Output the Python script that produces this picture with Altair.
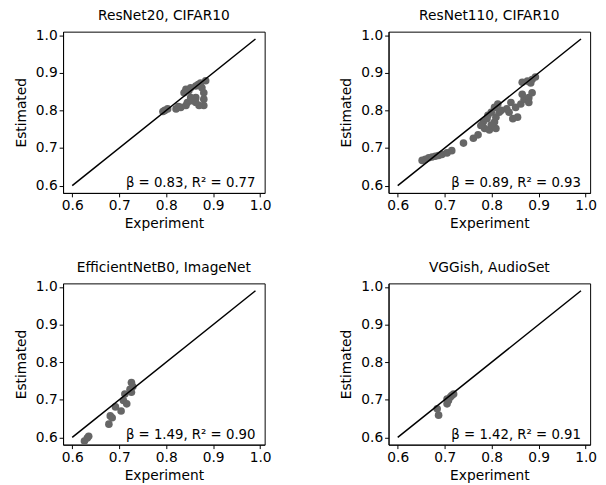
import altair as alt
import pandas as pd

titles = ["ResNet20, CIFAR10", "ResNet110, CIFAR10",
          "EfficientNetB0, ImageNet", "VGGish, AudioSet"]
notes = ["β = 0.83, R² = 0.77", "β = 0.89, R² = 0.93",
         "β = 1.49, R² = 0.90", "β = 1.42, R² = 0.91"]

resnet20_exp = [0.793, 0.797, 0.803, 0.821, 0.831, 0.842, 0.845, 0.838, 0.842,
                0.852, 0.863, 0.873, 0.884, 0.880, 0.880, 0.880, 0.870, 0.863,
                0.863, 0.852, 0.855, 0.876, 0.868, 0.848, 0.826]
resnet20_est = [0.797, 0.800, 0.804, 0.804, 0.808, 0.813, 0.821, 0.847, 0.856,
                0.860, 0.865, 0.873, 0.879, 0.847, 0.830, 0.813, 0.813, 0.834,
                0.821, 0.834, 0.826, 0.860, 0.869, 0.852, 0.810]

resnet110_exp = [0.652, 0.659, 0.666, 0.673, 0.680, 0.687, 0.694, 0.705, 0.715,
                 0.740, 0.761, 0.771, 0.782, 0.792, 0.799, 0.806, 0.813, 0.785,
                 0.795, 0.809, 0.806, 0.799, 0.809, 0.816, 0.837, 0.841, 0.855,
                 0.851, 0.862, 0.869, 0.879, 0.886, 0.879, 0.865, 0.845, 0.832,
                 0.865, 0.876, 0.886, 0.893, 0.883, 0.790, 0.777, 0.820]
resnet110_est = [0.667, 0.670, 0.674, 0.676, 0.678, 0.680, 0.683, 0.687, 0.693,
                 0.713, 0.726, 0.735, 0.769, 0.787, 0.795, 0.808, 0.817, 0.752,
                 0.748, 0.752, 0.769, 0.761, 0.782, 0.795, 0.795, 0.821, 0.782,
                 0.808, 0.817, 0.830, 0.834, 0.847, 0.821, 0.843, 0.778, 0.804,
                 0.875, 0.878, 0.882, 0.889, 0.873, 0.778, 0.760, 0.800]

effnet_exp = [0.626, 0.632, 0.635, 0.678, 0.681, 0.685, 0.692, 0.704, 0.709,
              0.716, 0.712, 0.726, 0.726, 0.729, 0.723]
effnet_est = [0.590, 0.598, 0.603, 0.635, 0.657, 0.652, 0.681, 0.670, 0.698,
              0.689, 0.715, 0.720, 0.746, 0.735, 0.728]

vggish_exp = [0.687, 0.684, 0.705, 0.705, 0.712, 0.719, 0.715, 0.708]
vggish_est = [0.659, 0.676, 0.689, 0.702, 0.707, 0.715, 0.711, 0.698]

ref_line = [0.6, 0.99]
tick_values = [0.6, 0.7, 0.8, 0.9, 1.0]
axis_domain = [0.5805, 1.0095]
note_pos = [0.99, 0.596]

series = [(resnet20_exp, resnet20_est), (resnet110_exp, resnet110_est),
          (effnet_exp, effnet_est), (vggish_exp, vggish_est)]

FONT = "DejaVu Sans"


def panel(title, xs, ys, note):
    xenc = alt.X("Experiment:Q",
                 scale=alt.Scale(domain=axis_domain, nice=False, zero=False),
                 axis=alt.Axis(values=tick_values, format=".1f", title="Experiment"))
    yenc = alt.Y("Estimated:Q",
                 scale=alt.Scale(domain=axis_domain, nice=False, zero=False),
                 axis=alt.Axis(values=tick_values, format=".1f", title="Estimated"))
    pts = pd.DataFrame({"Experiment": xs, "Estimated": ys})
    line_df = pd.DataFrame({"Experiment": ref_line, "Estimated": ref_line})
    text_df = pd.DataFrame({"Experiment": [note_pos[0]], "Estimated": [note_pos[1]],
                            "note": [note]})
    points = alt.Chart(pts).mark_circle(size=60, color="#666666", opacity=1).encode(
        x=xenc, y=yenc)
    line = alt.Chart(line_df).mark_line(color="black", strokeWidth=1.5).encode(
        x=xenc, y=yenc)
    text = alt.Chart(text_df).mark_text(align="right", baseline="alphabetic",
                                        fontSize=13.5, font=FONT, color="black").encode(
        x=xenc, y=yenc, text="note:N")
    return alt.layer(points, line, text).properties(
        width=205, height=164, title=title)


panels = [panel(t, s[0], s[1], n) for t, s, n in zip(titles, series, notes)]

chart = alt.vconcat(
    alt.hconcat(panels[0], panels[1], spacing=68),
    alt.hconcat(panels[2], panels[3], spacing=68),
    spacing=30,
).properties(
    padding={"left": 6, "top": -3, "right": 0, "bottom": 0}
).configure_view(
    stroke="black", strokeWidth=1
).configure_axis(
    grid=False, domainColor="black", tickColor="black", labelColor="black",
    titleColor="black", labelFont=FONT, titleFont=FONT, labelFontSize=14,
    titleFontSize=14, titleFontWeight="normal", tickSize=4, labelPadding=2,
    domainWidth=1, tickWidth=1
).configure_axisX(
    titlePadding=4
).configure_axisY(
    titlePadding=7
).configure_title(
    font=FONT, fontSize=14, fontWeight="normal", color="black", offset=5
)

chart.save("out.html", embed_options={"renderer": "svg", "actions": False})
